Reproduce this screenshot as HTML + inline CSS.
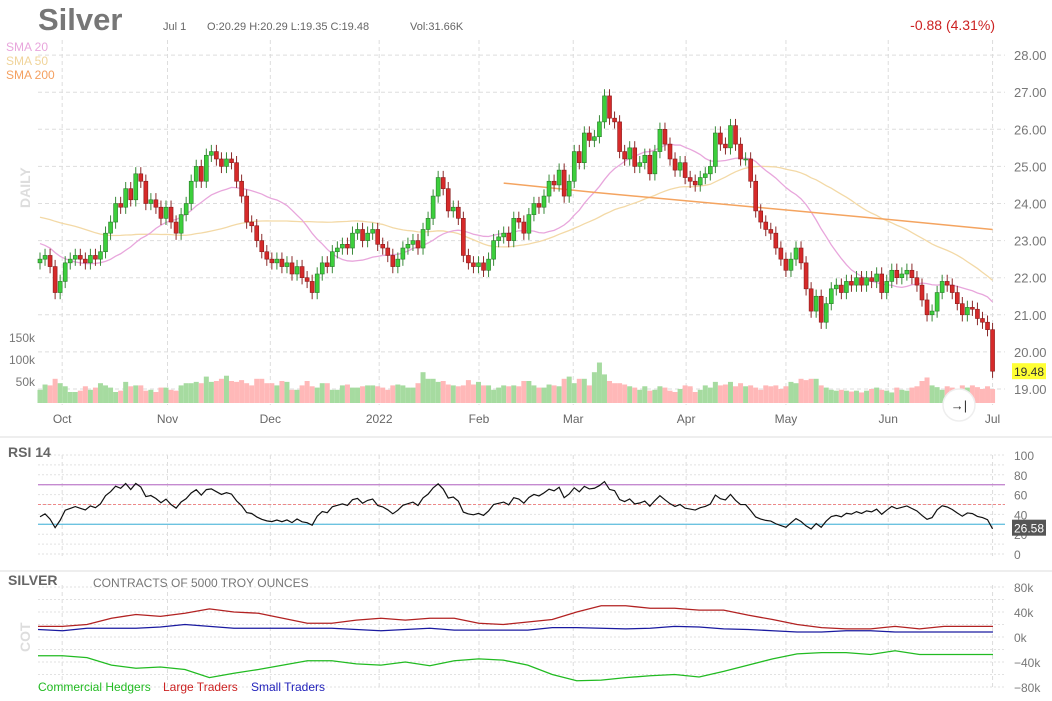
<!DOCTYPE html>
<html><head><meta charset="utf-8">
<style>
body{margin:0;background:#fff;font-family:"Liberation Sans",sans-serif;}
svg{display:block}
text{font-family:"Liberation Sans",sans-serif}
</style></head>
<body>
<svg id="c" width="1052" height="701" xmlns="http://www.w3.org/2000/svg"></svg>
<script>
const closes=[22.5,22.6,22.3,21.6,21.9,22.4,22.5,22.6,22.5,22.4,
22.6,22.5,22.7,23.2,23.5,24.0,23.9,24.4,24.1,24.8,
24.6,24.0,24.1,23.9,23.6,23.9,23.5,23.2,23.7,24.0,
24.6,25.0,24.6,25.3,25.4,25.2,25.0,25.2,25.1,24.6,
24.2,23.5,23.4,23.0,22.7,22.5,22.4,22.5,22.3,22.4,
22.1,22.3,22.0,21.9,21.6,22.1,22.4,22.3,22.7,22.8,
22.9,22.8,23.2,23.3,23.0,23.2,23.3,22.9,22.8,22.6,
22.3,22.5,22.8,22.9,23.0,22.8,23.3,23.6,24.2,24.7,
24.4,23.8,23.9,23.6,22.6,22.4,22.3,22.4,22.2,22.5,
23.0,23.1,23.2,23.0,23.6,23.5,23.2,23.7,24.0,23.9,
24.2,24.6,24.5,24.9,24.2,24.6,25.4,25.1,25.9,25.7,
25.8,26.2,26.9,26.3,26.2,25.4,25.2,25.5,25.0,25.1,
25.3,24.8,25.4,26.0,25.6,25.2,24.9,25.1,24.7,24.6,
24.5,24.7,24.8,25.0,25.9,25.6,25.5,26.1,25.6,25.2,
25.2,24.6,23.8,23.5,23.3,23.2,22.8,22.5,22.2,22.5,
22.8,22.4,21.7,21.1,21.5,20.8,21.3,21.7,21.8,21.6,
21.9,21.8,22.0,21.8,22.0,21.9,22.1,21.6,21.9,22.2,
22.0,22.1,22.2,22.0,21.8,21.4,21.0,21.1,21.6,21.9,
21.8,21.6,21.3,21.0,21.2,21.15,20.9,20.8,20.6,19.48];
const history=[24.2,24.0,23.8,23.9,24.0,24.1,24.3,24.5,24.6,24.8,24.7,24.5,24.3,24.2,24.0,23.8,23.9,24.0,24.1,24.3,24.1,24.0,23.9,24.0,23.8,23.7,23.9,24.0,23.9,23.8,23.6,23.8,24.0,23.9,23.7,23.5,23.3,23.0,22.8,22.6,22.4,22.3,22.5,22.4,22.3,22.6,22.5,22.3,22.4];
const volumes=[30,42,40,55,45,38,25,25,28,38,30,35,45,40,35,25,28,48,38,40,40,28,30,25,35,35,30,28,40,45,45,48,45,60,48,50,55,62,50,48,52,45,40,55,55,45,45,40,50,48,30,30,40,50,38,35,45,45,30,30,40,42,35,35,38,40,40,38,35,30,40,42,40,35,35,45,70,55,55,48,50,42,40,38,40,52,42,48,40,40,30,35,40,38,40,38,50,50,40,35,35,42,40,38,55,60,45,55,55,40,70,92,65,50,45,45,42,38,35,30,38,28,30,38,35,28,25,32,40,38,25,30,40,35,48,40,42,48,38,45,38,40,35,30,40,38,40,32,38,48,45,55,52,55,55,40,35,30,28,30,28,26,28,24,28,32,35,30,28,24,35,30,28,35,38,50,58,40,36,30,38,35,25,40,35,40,36,32,38,31.66];
const sma200Idx=[92,110,130,150,170,189];
const sma200Val=[24.55,24.3,24.05,23.8,23.55,23.3];
const priceTicks=[28,27,26,25,24,23,22,21,20,19];
const volTicks=[150,100,50];
const monthLabels=["Oct","Nov","Dec","2022","Feb","Mar","Apr","May","Jun","Jul"];
const monthIdx=[4.4,25.3,45.7,67.3,87.1,105.8,128.2,148,168.3,189];
const rsiTicks=[100,80,60,40,20,0];
const cotLarge=[17,17,20,30,36,33,38,45,40,38,30,22,22,27,30,27,30,30,22,20,24,28,40,50,50,46,46,43,43,35,28,20,15,13,13,17,13,17,17,17];
const cotSmall=[12,10,14,14,14,16,20,17,14,14,14,14,14,12,10,12,14,11,11,11,11,15,15,14,13,14,17,16,13,12,10,8,8,10,10,8,8,8,8,8];
const cotComm=[-30,-30,-33,-45,-50,-48,-52,-65,-58,-52,-45,-38,-38,-43,-45,-40,-46,-38,-35,-37,-45,-60,-70,-69,-65,-62,-60,-64,-55,-45,-35,-27,-25,-25,-28,-22,-28,-28,-28,-28];
const cotTicks=[80,40,0,-40,-80];

const S=document.getElementById('c');const NS='http://www.w3.org/2000/svg';
function el(t,a,txt){const e=document.createElementNS(NS,t);for(const k in a)e.setAttribute(k,a[k]);if(txt!=null)e.textContent=txt;S.appendChild(e);return e;}
const xi=i=>40+i*5.04;
const py=p=>389-(p-19)*37.1;
const vy=v=>403-v*0.44;
const ry=r=>554-r*0.99;
const cx=i=>38+i*(955/39);
const cy=v=>637-v*0.625;

let e;
e=el('line',{x1:0,x2:1052,y1:437,y2:437,stroke:'#eee','stroke-width':2});
e=el('line',{x1:0,x2:1052,y1:571,y2:571,stroke:'#eee','stroke-width':2});

priceTicks.forEach(p=>{el('line',{x1:38,x2:1005,y1:py(p),y2:py(p),stroke:'#ddd','stroke-dasharray':'4,3'});
e=el('text',{x:1014,y:py(p)+5,'font-size':13,fill:'#777'},p.toFixed(2));});
volTicks.forEach(v=>{e=el('text',{x:35,y:vy(v)+5,'font-size':12,fill:'#777','text-anchor':'end'},v+'k');});
monthIdx.forEach((m,k)=>{const x=xi(m);
el('line',{x1:x,x2:x,y1:40,y2:405,stroke:'#ddd','stroke-dasharray':'4,3'});
el('line',{x1:x,x2:x,y1:455,y2:556,stroke:'#ddd','stroke-dasharray':'4,3'});
el('line',{x1:x,x2:x,y1:585,y2:690,stroke:'#ddd','stroke-dasharray':'4,3'});
e=el('text',{x:x,y:423,'font-size':12,fill:'#666','text-anchor':'middle'},monthLabels[k]);});

volumes.forEach((v,i)=>{const o=i?closes[i-1]:history[history.length-1];const up=closes[i]>=o;
e=el('rect',{x:xi(i)-2.5,y:vy(v),width:5,height:403-vy(v),fill:up?'#a6dba0':'#ffb8b8'});});

const all=history.concat(closes);
function sma(n){const pts=[];closes.forEach((c,i)=>{const j=i+history.length;const w=all.slice(Math.max(0,j-n+1),j+1);pts.push(xi(i)+','+py(w.reduce((a,b)=>a+b,0)/w.length));});return pts.join(' ');}
e=el('polyline',{points:sma(50),fill:'none',stroke:'#f3d9a6','stroke-width':1.3});
e=el('polyline',{points:sma(20),fill:'none',stroke:'#e8a6dc','stroke-width':1.3});
e=el('polyline',{points:sma200Idx.map((d,k)=>xi(d)+','+py(sma200Val[k])).join(' '),fill:'none',stroke:'#f4a460','stroke-width':1.5});

closes.forEach((c,i)=>{const o=i?closes[i-1]:history[history.length-1];const up=c>=o;
const hi=Math.max(o,c)+0.18,lo=Math.min(o,c)-0.18;const x=xi(i);
el('line',{x1:x,x2:x,y1:py(hi),y2:py(lo),stroke:up?'#3a8a3a':'#8a2a2a','stroke-width':1});
e=el('rect',{x:x-2,y:py(Math.max(o,c)),width:4,height:Math.max(1,Math.abs(py(o)-py(c))),fill:up?'#3ccf3c':'#d62a2a',stroke:up?'#2a7a2a':'#8a1a1a','stroke-width':0.6});
});

const last=closes[closes.length-1];
el('rect',{x:1012,y:py(last)-8,width:34,height:16,fill:'#ffff33'});
e=el('text',{x:1014,y:py(last)+5,'font-size':12,fill:'#333'},last.toFixed(2));

e=el('text',{x:38,y:30,'font-size':31,'font-weight':'bold',fill:'#777'},'Silver');
e=el('text',{x:163,y:30,'font-size':11,fill:'#666'},'Jul 1');
e=el('text',{x:207,y:30,'font-size':11,fill:'#666'},'O:20.29  H:20.29  L:19.35  C:19.48');
e=el('text',{x:410,y:30,'font-size':11,fill:'#666'},'Vol:31.66K');
e=el('text',{x:995,y:30,'font-size':14,fill:'#cc2222','text-anchor':'end'},'-0.88 (4.31%)');
[['SMA 20','#e8a6dc',51],['SMA 50','#f0d49a',65],['SMA 200','#f4a060',79]].forEach(s=>{e=el('text',{x:6,y:s[2],'font-size':12,fill:s[1]},s[0]);});
e=el('text',{x:0,y:0,'font-size':14,'font-weight':'bold',fill:'#ddd',transform:'translate(30,208) rotate(-90)'},'DAILY');

e=el('circle',{cx:959,cy:405,r:16,fill:'#fff',stroke:'#eee','stroke-width':1.5});
el('text',{x:959,y:410,'font-size':13,fill:'#333','text-anchor':'middle'},'→|');

for(let r=0;r<=100;r+=10){el('line',{x1:38,x2:1005,y1:ry(r),y2:ry(r),stroke:'#e2e2e2','stroke-dasharray':'2,2'});}
rsiTicks.forEach(r=>{e=el('text',{x:1014,y:ry(r)+5,'font-size':12,fill:'#777'},r);});
el('line',{x1:38,x2:1005,y1:ry(70),y2:ry(70),stroke:'#c58ad0','stroke-width':1.3});
el('line',{x1:38,x2:1005,y1:ry(50),y2:ry(50),stroke:'#e88','stroke-dasharray':'3,2'});
el('line',{x1:38,x2:1005,y1:ry(30),y2:ry(30),stroke:'#6cc3e0','stroke-width':1.3});
let ag=0,al=0;const rsi=[];
for(let j=1;j<all.length;j++){const d=all[j]-all[j-1];const g=Math.max(d,0),l=Math.max(-d,0);
if(j<=14){ag+=g/14;al+=l/14;}else{ag=(ag*13+g)/14;al=(al*13+l)/14;}
if(j>=history.length)rsi.push(al===0?100:100-100/(1+ag/al));}
e=el('polyline',{points:rsi.map((r,i)=>xi(i)+','+ry(r)).join(' '),fill:'none',stroke:'#111','stroke-width':1.2});
el('rect',{x:1012,y:ry(26.58)-8,width:34,height:16,fill:'#555'});
e=el('text',{x:1014,y:ry(26.58)+5,'font-size':12,fill:'#fff'},'26.58');
e=el('text',{x:8,y:457,'font-size':14,'font-weight':'bold',fill:'#666'},'RSI 14');

for(let v=80;v>=-80;v-=20){el('line',{x1:38,x2:1005,y1:cy(v),y2:cy(v),stroke:'#e2e2e2','stroke-dasharray':'2,2'});}
cotTicks.forEach(v=>{e=el('text',{x:1014,y:cy(v)+5,'font-size':12,fill:'#777'},(v<0?'−':'')+Math.abs(v)+'k');});
[[cotLarge,'#b22222','large-traders-line'],[cotSmall,'#1a1aa0','small-traders-line'],[cotComm,'#22bb22','commercial-hedgers-line']].forEach(s=>{
e=el('polyline',{points:s[0].map((v,i)=>cx(i)+','+cy(v)).join(' '),fill:'none',stroke:s[1],'stroke-width':1.3});});
e=el('text',{x:8,y:585,'font-size':14,'font-weight':'bold',fill:'#666'},'SILVER');
e=el('text',{x:93,y:587,'font-size':12,fill:'#777'},'CONTRACTS OF 5000 TROY OUNCES');
e=el('text',{x:0,y:0,'font-size':14,'font-weight':'bold',fill:'#ddd',transform:'translate(30,652) rotate(-90)'},'COT');
e=el('text',{x:38,y:691,'font-size':12,fill:'#22bb22'},'Commercial Hedgers');
e=el('text',{x:163,y:691,'font-size':12,fill:'#cc2222'},'Large Traders');
e=el('text',{x:251,y:691,'font-size':12,fill:'#2222bb'},'Small Traders');
</script>
</body></html>
